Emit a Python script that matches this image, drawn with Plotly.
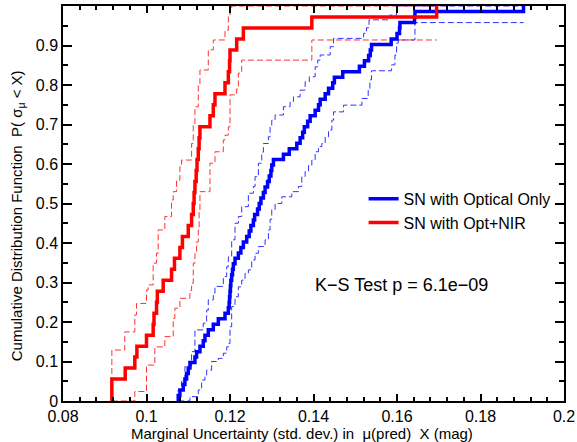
import plotly.graph_objects as go

# ---- sample values (sorted sigma_mu per SN) ----
opt_nir_sigma = [0.0917, 0.0917, 0.0949, 0.0972, 0.0977, 0.1000, 0.1016, 0.1018, 0.1024, 0.1026,
                 0.1040, 0.1060, 0.1067, 0.1080, 0.1086, 0.1100, 0.1108, 0.1112, 0.1114, 0.1116,
                 0.1119, 0.1121, 0.1124, 0.1126, 0.1128, 0.1152, 0.1160, 0.1164, 0.1188, 0.1196,
                 0.1199, 0.1200, 0.1216, 0.1232, 0.1396, 0.1695]

optical_sigma = [0.1076, 0.1080, 0.1088, 0.1092, 0.1096, 0.1100, 0.1104, 0.1116, 0.1120, 0.1128,
                 0.1136, 0.1140, 0.1148, 0.1160, 0.1172, 0.1188, 0.1196, 0.1198, 0.1199, 0.1200,
                 0.1201, 0.1202, 0.1204, 0.1206, 0.1208, 0.1212, 0.1220, 0.1226, 0.1232, 0.1240,
                 0.1246, 0.1250, 0.1256, 0.1259, 0.1266, 0.1270, 0.1274, 0.1280, 0.1284, 0.1290,
                 0.1294, 0.1298, 0.1300, 0.1304, 0.1328, 0.1342, 0.1360, 0.1368, 0.1374, 0.1378,
                 0.1386, 0.1392, 0.1404, 0.1412, 0.1416, 0.1428, 0.1436, 0.1446, 0.1450, 0.1470,
                 0.1510, 0.1522, 0.1532, 0.1536, 0.1539, 0.1586, 0.1600, 0.1606, 0.1607, 0.1642,
                 0.1643, 0.1903]

# ---- confidence band step points (x where step occurs, level after step) ----
nir_upper_x = [0.0917, 0.0948, 0.0972, 0.0976, 0.1000, 0.1004, 0.1016, 0.1024, 0.1028, 0.1044,
               0.1060, 0.1064, 0.1072, 0.1080, 0.1084, 0.1108, 0.1112, 0.1116, 0.1124, 0.1128,
               0.1148, 0.1160, 0.1188, 0.1196, 0.1200, 0.1204]
nir_upper_y = [0.129, 0.175, 0.218, 0.247, 0.281, 0.294, 0.349, 0.374, 0.433, 0.467,
               0.509, 0.530, 0.559, 0.593, 0.610, 0.652, 0.700, 0.745, 0.800, 0.838,
               0.889, 0.914, 0.939, 0.973, 0.990, 1.0]

nir_lower_x = [0.0972, 0.1000, 0.1020, 0.1044, 0.1064, 0.1068, 0.1080, 0.1104, 0.1108, 0.1112,
               0.1116, 0.1120, 0.1124, 0.1126, 0.1128, 0.1152, 0.1164, 0.1184, 0.1188, 0.1196,
               0.1200, 0.1216, 0.1220, 0.1228, 0.1396]
nir_lower_y = [0.024, 0.091, 0.137, 0.163, 0.209, 0.235, 0.260, 0.280, 0.298, 0.349,
               0.374, 0.403, 0.433, 0.480, 0.530, 0.602, 0.631, 0.661, 0.673, 0.694,
               0.775, 0.790, 0.830, 0.863, 0.914]

opt_upper_x = [0.1076, 0.1084, 0.1092, 0.1108, 0.1116, 0.1136, 0.1144, 0.1148, 0.1160, 0.1164,
               0.1184, 0.1192, 0.1196, 0.1204, 0.1212, 0.1220, 0.1228, 0.1244, 0.1256, 0.1260,
               0.1268, 0.1276, 0.1280, 0.1292, 0.1296, 0.1300, 0.1308, 0.1328, 0.1344, 0.1352,
               0.1368, 0.1380, 0.1390, 0.1404, 0.1410, 0.1416, 0.1440, 0.1448, 0.1520, 0.1527,
               0.1533, 0.1583, 0.1599]
opt_upper_y = [0.028, 0.050, 0.087, 0.125, 0.180, 0.197, 0.230, 0.256, 0.273, 0.290,
               0.315, 0.340, 0.365, 0.408, 0.450, 0.467, 0.492, 0.526, 0.543, 0.568,
               0.602, 0.630, 0.652, 0.669, 0.694, 0.711, 0.724, 0.745, 0.758, 0.770,
               0.787, 0.808, 0.821, 0.846, 0.863, 0.876, 0.897, 0.918, 0.931, 0.945,
               0.965, 0.977, 1.0]

opt_lower_x = [0.1104, 0.1124, 0.1132, 0.1140, 0.1144, 0.1156, 0.1172, 0.1184, 0.1192, 0.1196,
               0.1200, 0.1204, 0.1212, 0.1220, 0.1228, 0.1236, 0.1244, 0.1252, 0.1260, 0.1268,
               0.1284, 0.1292, 0.1296, 0.1300, 0.1308, 0.1324, 0.1348, 0.1364, 0.1372, 0.1380,
               0.1388, 0.1396, 0.1404, 0.1412, 0.1420, 0.1428, 0.1436, 0.1444, 0.1448, 0.1472,
               0.1516, 0.1531, 0.1535, 0.1539, 0.1587, 0.1595, 0.1599, 0.1603, 0.1643]
opt_lower_y = [0.011, 0.028, 0.053, 0.062, 0.078, 0.100, 0.108, 0.121, 0.137, 0.146,
               0.188, 0.239, 0.264, 0.289, 0.306, 0.323, 0.332, 0.357, 0.374, 0.391,
               0.408, 0.433, 0.460, 0.484, 0.500, 0.517, 0.530, 0.543, 0.568, 0.581,
               0.597, 0.610, 0.631, 0.644, 0.652, 0.669, 0.686, 0.711, 0.732, 0.749,
               0.766, 0.787, 0.813, 0.836, 0.851, 0.876, 0.906, 0.914, 0.958]

# ---- tick labels ----
x_tick_vals = [0.08, 0.10, 0.12, 0.14, 0.16, 0.18, 0.20]
x_tick_text = ["0.08", "0.1", "0.12", "0.14", "0.16", "0.18", "0.2"]
y_tick_vals = [0.0, 0.1, 0.2, 0.3, 0.4, 0.5, 0.6, 0.7, 0.8, 0.9, 1.0]
y_tick_text = ["0", "0.1", "0.2", "0.3", "0.4", "0.5", "0.6", "0.7", "0.8", "0.9", "1"]

series_names = ["SN with Optical Only", "SN with Opt+NIR"]
ks_text = "K\u2212S Test p = 6.1e\u221209"
x_title = "Marginal Uncertainty (std. dev.) in\u00a0 \u03bc(pred)\u00a0 X (mag)"
y_title = "Cumulative Distribution Function\u00a0 P( \u03c3<sub>\u03bc</sub> &lt; X)"

RED = "#ff0000"
BLUE = "#0000ff"


def ecdf(vals):
    s = sorted(vals)
    n = len(s)
    return [s[0]] + s, [0.0] + [(i + 1) / n for i in range(n)]


def band(bx, by, start, end):
    return [start] + list(bx) + [end], [0.0] + list(by) + [by[-1]]


fig = go.Figure()

# dashed bands
for bx, by, vals, col in [
    (opt_upper_x, opt_upper_y, optical_sigma, BLUE),
    (opt_lower_x, opt_lower_y, optical_sigma, BLUE),
    (nir_upper_x, nir_upper_y, opt_nir_sigma, RED),
    (nir_lower_x, nir_lower_y, opt_nir_sigma, RED),
]:
    xx, yy = band(bx, by, min(vals), max(vals))
    fig.add_trace(go.Scatter(x=xx, y=yy, mode="lines", line_shape="hv",
                             line=dict(color=col, width=1, dash="6px,3px"),
                             opacity=0.8, showlegend=False, hoverinfo="skip"))

# solid CDFs
for vals, col, name in [(optical_sigma, BLUE, series_names[0]),
                        (opt_nir_sigma, RED, series_names[1])]:
    xx, yy = ecdf(vals)
    fig.add_trace(go.Scatter(x=xx, y=yy, mode="lines", line_shape="hv",
                             line=dict(color=col, width=3.5), name=name))

font_family = "Liberation Sans, Arial, Helvetica, sans-serif"

fig.update_layout(
    width=577, height=442,
    margin=dict(l=63, r=13, t=6, b=41),
    paper_bgcolor="white", plot_bgcolor="white",
    font=dict(family=font_family, size=15, color="black"),
    legend=dict(x=0.6, y=0.555, xanchor="left", yanchor="top",
                bgcolor="rgba(0,0,0,0)", borderwidth=0,
                font=dict(size=16), tracegroupgap=0, itemwidth=30),
    annotations=[
        dict(text=ks_text, x=0.676, y=0.294, xref="paper", yref="paper",
             showarrow=False, font=dict(size=18), xanchor="center", yanchor="middle"),
        dict(text=x_title, x=0.477, y=-0.083, xref="paper", yref="paper",
             showarrow=False, font=dict(size=15), xanchor="center", yanchor="middle"),
        dict(text=y_title, x=-0.092, y=0.47, xref="paper", yref="paper", textangle=-90,
             showarrow=False, font=dict(size=15), xanchor="center", yanchor="middle"),
    ],
)

fig.update_xaxes(
    range=[0.08, 0.2], tickmode="array", tickvals=x_tick_vals, ticktext=x_tick_text,
    automargin=False, ticklabelstandoff=0,
    showline=True, linecolor="black", linewidth=1.5, mirror="allticks",
    ticks="inside", ticklen=7, tickcolor="black", tickwidth=1.5,
    showgrid=False, zeroline=False,
    minor=dict(dtick=0.004, tick0=0.08, ticks="inside", ticklen=4, tickcolor="black", tickwidth=1.5),
    tickfont=dict(size=16),
)
fig.update_yaxes(
    range=[0, 1], tickmode="array", tickvals=y_tick_vals, ticktext=y_tick_text,
    automargin=False,
    showline=True, linecolor="black", linewidth=1.5, mirror="allticks",
    ticks="inside", ticklen=9, tickcolor="black", tickwidth=1.5,
    showgrid=False, zeroline=False,
    minor=dict(dtick=0.05, tick0=0, ticks="inside", ticklen=5, tickcolor="black", tickwidth=1.5),
    tickfont=dict(size=16),
)

fig.write_html("out.html", config={"displayModeBar": False},
               post_script="document.body.style.margin='0';")
